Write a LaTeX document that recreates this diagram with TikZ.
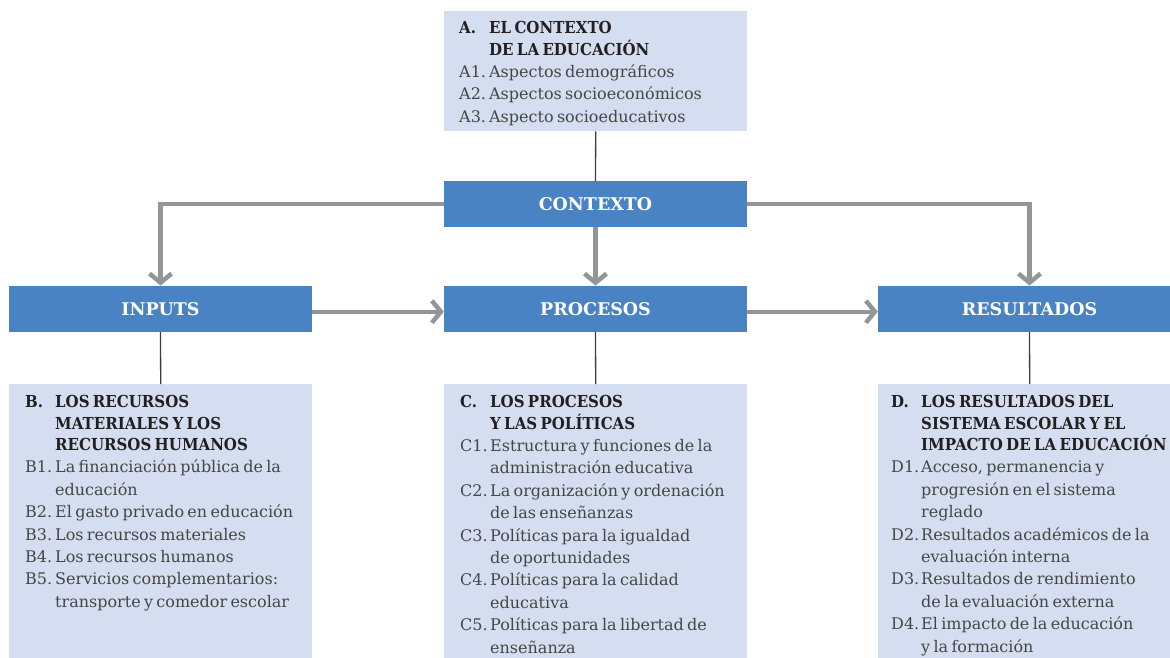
\documentclass[tikz,border=0pt]{standalone}
\usepackage{fontspec}
\setmainfont{DejaVu Serif}
\newfontfamily\ttlfam{DejaVu Serif}[FakeStretch=0.91]
\usetikzlibrary{arrows.meta}
\definecolor{lightbox}{HTML}{D5DEF0}
\definecolor{bluebox}{HTML}{4A83C4}
\definecolor{arrowgray}{HTML}{939598}
\definecolor{thinline}{HTML}{3C3C3C}
\definecolor{titletext}{HTML}{231F20}
\definecolor{itemtext}{HTML}{454545}
\newcommand\tline[2]{\par\noindent{\color{titletext}\makebox[30pt][l]{#1}#2}}
\newcommand\iline[2]{\par\noindent{\color{itemtext}\makebox[30pt][l]{#1}#2}}
\newcommand\ttlfont{\ttlfam\fontsize{16.5}{21.3}\selectfont\bfseries}
\newcommand\itmfont{\rmfamily\mdseries\fontsize{16}{22.4}\selectfont}
\tikzset{
  lbox/.style={fill=lightbox, minimum width=303pt, inner sep=0pt, anchor=north west},
  hdrbox/.style={fill=bluebox, minimum width=303pt, minimum height=46pt, inner sep=0pt,
    text=white, font=\fontsize{17.5}{17.5}\selectfont\bfseries},
  txt/.style={inner sep=0pt, anchor=base west, text width=330pt, align=left},
  thinl/.style={draw=thinline, line width=1.3pt},
  garrow/.style={draw=arrowgray, line width=4.5pt, -{Straight Barb[length=9pt,width=22pt]}}
}
\begin{document}
\begin{tikzpicture}[x=1pt,y=-1pt]
\useasboundingbox (0,0) rectangle (1170,658);
% light boxes
\node[lbox, minimum height=120pt] (A) at (444,11) {};
\node[lbox, minimum height=290pt] (B) at (9,384) {};
\node[lbox, minimum height=290pt] (C) at (444,384) {};
\node[lbox, minimum height=290pt] (D) at (878,384) {};
% header boxes
\node[hdrbox] (ctx) at (595.5,204) {CONTEXTO};
\node[hdrbox] (inputs) at (160.5,308.75) {INPUTS};
\node[hdrbox] (procesos) at (595.5,308.75) {PROCESOS};
\node[hdrbox] (resultados) at (1029.5,308.75) {RESULTADOS};
% texts
\node[txt] (Atext) at (459,12.5) {%
\ttlfont\tline{A.}{EL CONTEXTO}\tline{}{DE LA EDUCACIÓN}\par
\itmfont\iline{A1.}{Aspectos demográficos}\iline{A2.}{Aspectos socioeconómicos}\iline{A3.}{Aspecto socioeducativos}\par};
\node[txt] (Btext) at (25,386.5) {%
\ttlfont\tline{B.}{LOS RECURSOS}\tline{}{MATERIALES Y LOS}\tline{}{RECURSOS HUMANOS}\par
\itmfont\iline{B1.}{La financiación pública de la}\iline{}{educación}\iline{B2.}{El gasto privado en educación}%
\iline{B3.}{Los recursos materiales}\iline{B4.}{Los recursos humanos}\iline{B5.}{Servicios complementarios:}%
\iline{}{transporte y comedor escolar}\par};
\node[txt] (Ctext) at (460,386.5) {%
\ttlfont\tline{C.}{LOS PROCESOS}\tline{}{Y LAS POLÍTICAS}\par
\itmfont\iline{C1.}{Estructura y funciones de la}\iline{}{administración educativa}%
\iline{C2.}{La organización y ordenación}\iline{}{de las enseñanzas}%
\iline{C3.}{Políticas para la igualdad}\iline{}{de oportunidades}%
\iline{C4.}{Políticas para la calidad}\iline{}{educativa}%
\iline{C5.}{Políticas para la libertad de}\iline{}{enseñanza}\par};
\node[txt] (Dtext) at (891,386.5) {%
\ttlfont\tline{D.}{LOS RESULTADOS DEL}\tline{}{SISTEMA ESCOLAR Y EL}\tline{}{IMPACTO DE LA EDUCACIÓN}\par
\itmfont\iline{D1.}{Acceso, permanencia y}\iline{}{progresión en el sistema}\iline{}{reglado}%
\iline{D2.}{Resultados académicos de la}\iline{}{evaluación interna}%
\iline{D3.}{Resultados de rendimiento}\iline{}{de la evaluación externa}%
\iline{D4.}{El impacto de la educación}\iline{}{y la formación}\par};
% thin connectors
\draw[thinl] (A.south) -- (ctx.north);
\draw[thinl] (inputs.south) -- (B.north);
\draw[thinl] (procesos.south) -- (C.north);
\draw[thinl] (resultados.south) -- (D.north);
% gray arrows
\draw[garrow] (ctx.west) -| (inputs.north);
\draw[garrow] (ctx.east) -| (resultados.north);
\draw[garrow] (ctx.south) -- (procesos.north);
\draw[garrow] ([yshift=-3pt]inputs.east) -- ([yshift=-3pt]procesos.west);
\draw[garrow] ([yshift=-3pt]procesos.east) -- ([yshift=-3pt]resultados.west);
\end{tikzpicture}
\end{document}
